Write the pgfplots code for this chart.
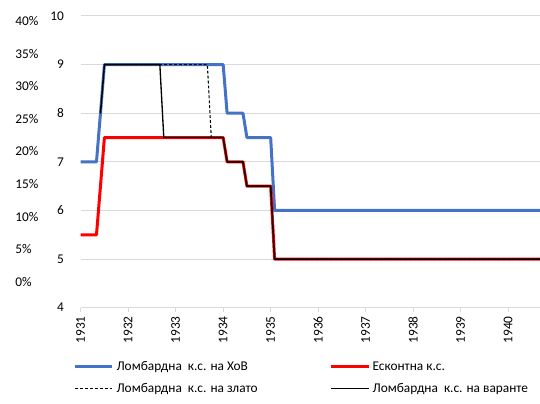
\documentclass[border=0pt]{standalone}
\usepackage{pgfplots}
\pgfplotsset{compat=1.18}
\usepackage{fontspec}
\setmainfont{Carlito}
\definecolor{xblue}{HTML}{4472C4}
\definecolor{xgrid}{HTML}{D9D9D9}
\begin{document}
\begin{tikzpicture}
\begin{axis}[name=ax, scale only axis, width=344.5pt, height=218.8pt,
  xmin=1931, xmax=1940.67, ymin=4, ymax=10,
  axis lines*=left,
  separate axis lines,
  y axis line style={draw=none},
  x axis line style={xgrid, line width=0.75pt},
  ytick={4,5,...,10},
  ytick style={draw=none},
  ymajorgrids, grid style={xgrid, line width=0.75pt},
  xtick={1931,1932,...,1940},
  xticklabels={1931,1932,1933,1934,1935,1936,1937,1938,1939,1940},
  xticklabel style={rotate=90, anchor=east, xshift=0pt},
  xtick style={xgrid, line width=0.75pt},
  tick align=outside, major tick length=3pt,
  ticklabel style={font=\fontsize{10}{12}\selectfont},
  yticklabel style={xshift=-6pt},
  /pgf/number format/assume math mode=true,
  legend columns=2,
  legend cell align=left,
  legend style={draw=none, fill=none, at={(0,0)}, anchor=north west, xshift=-8.5pt, yshift=-36pt,
    font=\fontsize{10}{11.5}\selectfont,
    /tikz/every even column/.append style={column sep=52pt},
    row sep=4pt},
  legend image code/.code={\draw[#1] (0pt,0pt) -- (28pt,0pt);},
]
\addplot[xblue, line width=2.25pt, line join=round] coordinates {
 (1931,7) (1931.333,7) (1931.417,8) (1931.5,9) (1934.0,9) (1934.083,8) (1934.417,8) (1934.5,7.5)
 (1935.0,7.5) (1935.083,6) (1940.8,6)};
\addlegendentry{Ломбардна\ \ к.с. на ХоВ}
\addplot[red, line width=2.25pt, line join=round] coordinates {
 (1931,5.5) (1931.333,5.5) (1931.417,6.5) (1931.5,7.5) (1934.0,7.5) (1934.083,7) (1934.417,7) (1934.5,6.5)
 (1935.0,6.5) (1935.083,5) (1940.8,5)};
\addlegendentry{Есконтна к.с.}
\addplot[black, line width=0.8pt, dash pattern=on 2.2pt off 1.5pt] coordinates {
 (1931.417,8) (1931.5,9) (1933.667,9) (1933.75,7.5) (1934.0,7.5) (1934.083,7) (1934.417,7) (1934.5,6.5)
 (1935.0,6.5) (1935.083,5) (1940.8,5)};
\addlegendentry{Ломбардна\ \ к.с. на злато}
\addplot[black, line width=1pt] coordinates {
 (1931.417,8) (1931.5,9) (1932.667,9) (1932.75,7.5) (1934.0,7.5) (1934.083,7) (1934.417,7) (1934.5,6.5)
 (1935.0,6.5) (1935.083,5) (1940.8,5)};
\addlegendentry{Ломбардна\ \ к.с. на варанте}
\end{axis}
\begin{axis}[scale only axis, width=344.5pt, height=218.8pt,
  at={(ax.south west)}, anchor=south west,
  xmin=0, xmax=1, ymin=-4, ymax=40.8,
  xtick=\empty,
  ytick={0,5,...,40},
  yticklabels={0\%,5\%,10\%,15\%,20\%,25\%,30\%,35\%,40\%},
  axis line style={draw=none},
  ytick style={draw=none},
  ticklabel style={font=\fontsize{10}{12}\selectfont},
  yticklabel style={anchor=west, xshift=-52.5pt},
]
\end{axis}
\pgfresetboundingbox
\path[use as bounding box] ([shift={(-60.5pt,-71.5pt)}]ax.south west) rectangle ([shift={(0pt,12pt)}]ax.north east);
\end{tikzpicture}
\end{document}
